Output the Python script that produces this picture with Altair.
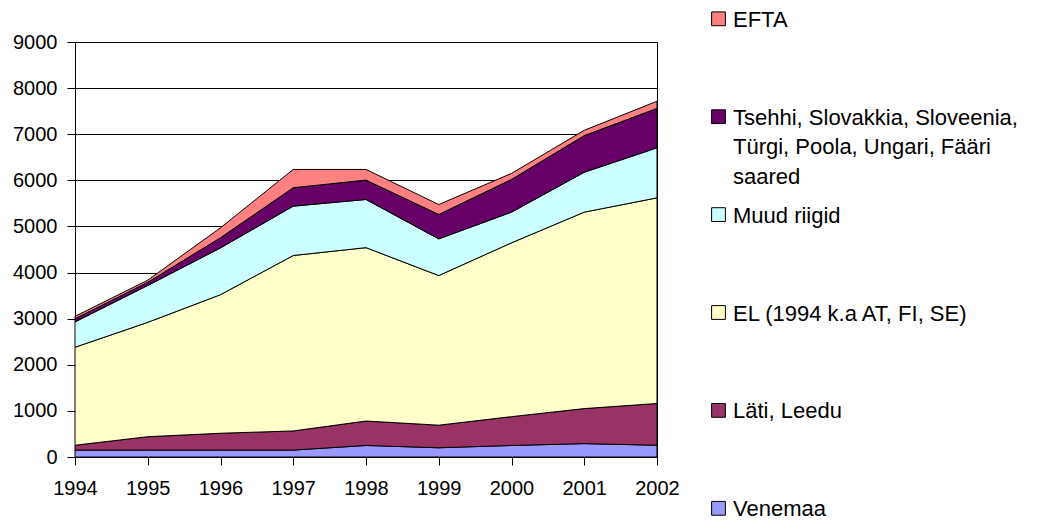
import altair as alt
import pandas as pd

years = [1994, 1995, 1996, 1997, 1998, 1999, 2000, 2001, 2002]
series = [
    "Venemaa",
    "Läti, Leedu",
    "EL (1994 k.a AT, FI, SE)",
    "Muud riigid",
    "Tsehhi, Slovakkia, Sloveenia, Türgi, Poola, Ungari, Fääri saared",
    "EFTA",
]
legend_labels = [
    "Venemaa",
    "Läti, Leedu",
    "EL (1994 k.a AT, FI, SE)",
    "Muud riigid",
    "Tsehhi, Slovakkia, Sloveenia,\nTürgi, Poola, Ungari, Fääri\nsaared",
    "EFTA",
]
colors = ["#9999FF", "#993366", "#FFFFCC", "#CCFFFF", "#660066", "#FF8080"]

venemaa = [150, 150, 150, 150, 250, 200, 250, 290, 255]
lati_leedu = [105, 290, 365, 415, 530, 490, 625, 760, 905]
el = [2125, 2480, 3005, 3805, 3760, 3245, 3770, 4260, 4460]
muud = [550, 800, 1015, 1070, 1045, 795, 665, 865, 1085]
tsehhi = [70, 70, 220, 400, 420, 530, 710, 795, 855]
efta = [50, 45, 215, 396, 231, 215, 130, 115, 155]

values = [venemaa, lati_leedu, el, muud, tsehhi, efta]

rows = []
for si, (name, vals) in enumerate(zip(series, values)):
    for y, v in zip(years, vals):
        rows.append({"year": y, "value": v, "series": name, "order": si})
df = pd.DataFrame(rows)

# legend rows, top (0) to bottom (5)
leg = pd.DataFrame({
    "series": series[::-1],
    "label": legend_labels[::-1],
    "row": list(range(6)),
})

FONT = "Liberation Sans"
color_scale = alt.Scale(domain=series, range=colors)

areas = alt.Chart(df).mark_area(stroke="black", strokeWidth=1, opacity=1).encode(
    x=alt.X("year:Q",
            scale=alt.Scale(domain=[1994, 2002], nice=False, zero=False),
            axis=alt.Axis(values=years, format="d", title=None, grid=False,
                          tickSize=8, labelPadding=13, labelFlush=False)),
    y=alt.Y("value:Q", stack="zero",
            scale=alt.Scale(domain=[0, 9000], nice=False),
            axis=alt.Axis(values=list(range(0, 9001, 1000)), format="d", title=None,
                          grid=True, tickSize=8, labelPadding=10)),
    color=alt.Color("series:N", scale=color_scale, legend=None),
    order=alt.Order("order:Q", sort="ascending"),
)

leg_y = alt.Y("row:Q", scale=alt.Scale(domain=[0, 5], range=[-23.2, 466.3]), axis=None)

leg_sq = alt.Chart(leg).mark_square(size=190, stroke="black", strokeWidth=1, opacity=1).encode(
    x=alt.value(643.5),
    y=leg_y,
    color=alt.Color("series:N", scale=color_scale, legend=None),
)

leg_txt = alt.Chart(leg).mark_text(
    align="left", baseline="alphabetic", dy=8, font=FONT, fontSize=22,
    lineBreak="\n", lineHeight=29.5, color="black",
).encode(
    x=alt.value(658),
    y=leg_y,
    text="label:N",
)

chart = alt.layer(areas, leg_sq, leg_txt).resolve_scale(y="independent").properties(
    width=582, height=415,
    autosize=alt.AutoSizeParams(type="none"),
    padding={"left": 67, "top": 34, "right": 387, "bottom": 64},
).configure_view(
    stroke="black", strokeWidth=1,
).configure_axis(
    labelFont=FONT, labelFontSize=20, labelColor="black",
    domainColor="black", domainWidth=1, tickColor="black", tickWidth=1,
    gridColor="#000000", gridWidth=1,
)

chart.save("out.html", embed_options={"renderer": "svg", "actions": False})
